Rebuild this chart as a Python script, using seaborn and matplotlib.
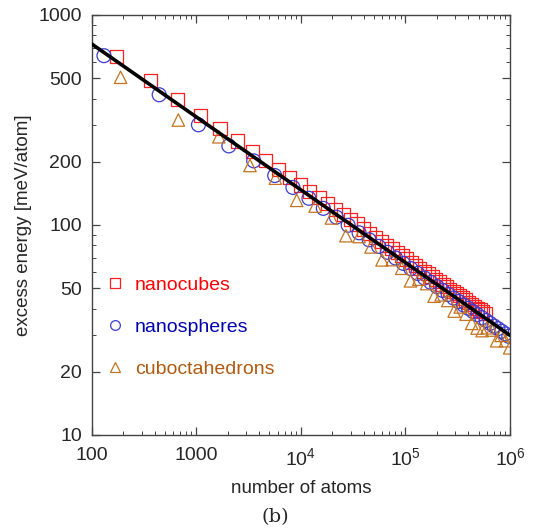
import numpy as np
import pandas as pd
import seaborn as sns
import matplotlib.pyplot as plt
from matplotlib.lines import Line2D
from matplotlib.ticker import FixedLocator, NullFormatter

# Datenpunkte
cube_atoms = [172, 365, 666, 1099, 1688, 2457, 3430, 4631, 6084, 7813, 9842, 12195,
              14896, 17969, 21438, 25327, 29660, 34461, 39754, 45563, 51912, 58825,
              66326, 74439, 83188, 92597, 102690, 113491, 125024, 137313, 150382,
              164255, 178956, 194509, 210938, 228267, 246520, 265721, 285894, 307063,
              329252, 352485, 376786, 402179, 428688, 456337, 485150, 515151, 546364,
              578813]
cube_energy = [633, 487, 396, 333, 287, 251, 224, 202, 184, 168, 155, 144,
               135, 126, 119, 112, 106, 101, 95.7, 91.3, 87.3, 83.5,
               80.1, 77.0, 74.1, 71.4, 68.9, 66.5, 64.3, 62.3, 60.3,
               58.5, 56.8, 55.2, 53.6, 52.2, 50.8, 49.5, 48.3, 47.1,
               46.0, 44.9, 43.9, 42.9, 41.9, 41.0, 40.2, 39.4, 38.6,
               37.8]

sphere_atoms = [131, 442, 1049, 2048, 3540, 5621, 8390, 11946, 16387, 21811, 28317,
                36003, 44966, 55306, 67121, 80511, 95572, 112401, 131097, 151761,
                174489, 199382, 226535, 256048, 288018, 322545, 359729, 399664,
                442451, 488189, 536975, 588903, 644079, 702595, 764554, 830055,
                899198, 972094]
sphere_energy = [640, 417, 300, 238, 202, 172, 151, 134, 120, 109, 99.7,
                 91.8, 85.0, 79.1, 74.1, 69.6, 65.6, 62.0, 58.8, 55.9,
                 53.3, 50.9, 48.8, 46.7, 44.9, 43.2, 41.6, 40.1,
                 38.7, 37.4, 36.2, 35.1, 34.0, 33.0, 32.1, 31.2,
                 30.3, 29.5]

cubo_atoms = [189, 674, 1643, 3262, 5697, 9120, 13690, 19575, 26945, 35980, 46810,
              59640, 74640, 91930, 111700, 134150, 159400, 187650, 219040, 253750,
              291970, 333800, 379500, 429100, 483200, 541200, 603900, 671200,
              743000, 820000, 902700, 990400]
cubo_energy = [505, 316, 263, 192, 167, 131, 123, 108, 88.9, 88.1, 78.6,
               68.2, 68.4, 62.2, 54.2, 55.2, 52.6, 45.8, 46.5, 43.7,
               38.9, 40.7, 37.6, 34.0, 32.3, 31.4, 32.4, 31.6,
               28.1, 29.8, 28.1, 26.0]

fit_atoms = [100, 1000, 10000, 100000, 1000000]
fit_energy = [728, 327, 147, 66.2, 29.8]

labels = ['nanocubes', 'nanospheres', 'cuboctahedrons']
marker_colors = ['#ff2020', '#3c3cd0', '#c47420']
text_colors = ['#ff0000', '#0000b0', '#b05a10']

sns.set_style('ticks')
plt.rcParams['font.family'] = ['Liberation Sans', 'DejaVu Sans']
plt.rcParams['mathtext.fontset'] = 'custom'
plt.rcParams['mathtext.rm'] = 'Liberation Sans'

fig = plt.figure(figsize=(5.33, 5.29), dpi=100)
ax = fig.add_axes([0.172, 0.1777, 0.785, 0.794])

cubes = pd.DataFrame({'N': cube_atoms, 'E': cube_energy})
spheres = pd.DataFrame({'N': sphere_atoms, 'E': sphere_energy})
cubo = pd.DataFrame({'N': cubo_atoms, 'E': cubo_energy})
fit = pd.DataFrame({'N': fit_atoms, 'E': fit_energy})

sns.scatterplot(data=cubes, x='N', y='E', marker='s', s=90, facecolors='none',
                edgecolor=marker_colors[0], linewidth=0.9, ax=ax, zorder=2)
sns.scatterplot(data=spheres, x='N', y='E', marker='o', s=100, facecolors='none',
                edgecolor=marker_colors[1], linewidth=0.9, ax=ax, zorder=2)
sns.scatterplot(data=cubo, x='N', y='E', marker='^', s=80, facecolors='none',
                edgecolor=marker_colors[2], linewidth=0.9, ax=ax, zorder=2)
sns.lineplot(data=fit, x='N', y='E', color='black', linewidth=2.6, ax=ax, zorder=3)

ax.set_xscale('log')
ax.set_yscale('log')
ax.set_xlim(100, 1e6)
ax.set_ylim(10, 1000)

ax.xaxis.set_major_locator(FixedLocator([100, 1000, 1e4, 1e5, 1e6]))
ax.set_xticklabels(['100', '1000', r'$10^4$', r'$10^5$', r'$10^6$'])
ax.yaxis.set_major_locator(FixedLocator([10, 20, 50, 100, 200, 500, 1000]))
ax.set_yticklabels(['10', '20', '50', '100', '200', '500', '1000'])
ax.yaxis.set_minor_locator(FixedLocator([30, 40, 60, 70, 80, 90, 300, 400, 600, 700, 800, 900]))
ax.yaxis.set_minor_formatter(NullFormatter())
ax.xaxis.set_minor_formatter(NullFormatter())

ax.tick_params(which='both', direction='in', top=True, right=True, labelsize=14,
               color='#444444')
ax.tick_params(axis='x', which='major', pad=9)
ax.tick_params(axis='y', which='major', pad=7)
ax.tick_params(which='major', length=6, width=0.9)
ax.tick_params(which='minor', length=3, width=0.7)
for sp in ax.spines.values():
    sp.set_color('#444444')
    sp.set_linewidth(1.0)

ax.set_xlabel('number of atoms', fontsize=13.5, labelpad=7)
ax.set_ylabel('excess energy [meV/atom]', fontsize=13.5, labelpad=5)

handles = [Line2D([], [], marker=m, linestyle='none', markerfacecolor='none',
                  markeredgecolor=c, markersize=7, markeredgewidth=0.9)
           for m, c in zip(['s', 'o', '^'], marker_colors)]
leg = ax.legend(handles, labels, loc='center left', bbox_to_anchor=(0.015, 0.257),
                frameon=False, fontsize=14, handlelength=1.0, handletextpad=0.5,
                labelspacing=1.25, borderaxespad=0)
for t, c in zip(leg.get_texts(), text_colors):
    t.set_color(c)

fig.text(0.516, 0.014, r'(b)', fontsize=14, family='DejaVu Serif', ha='center')

plt.savefig('out.png', dpi=100)
